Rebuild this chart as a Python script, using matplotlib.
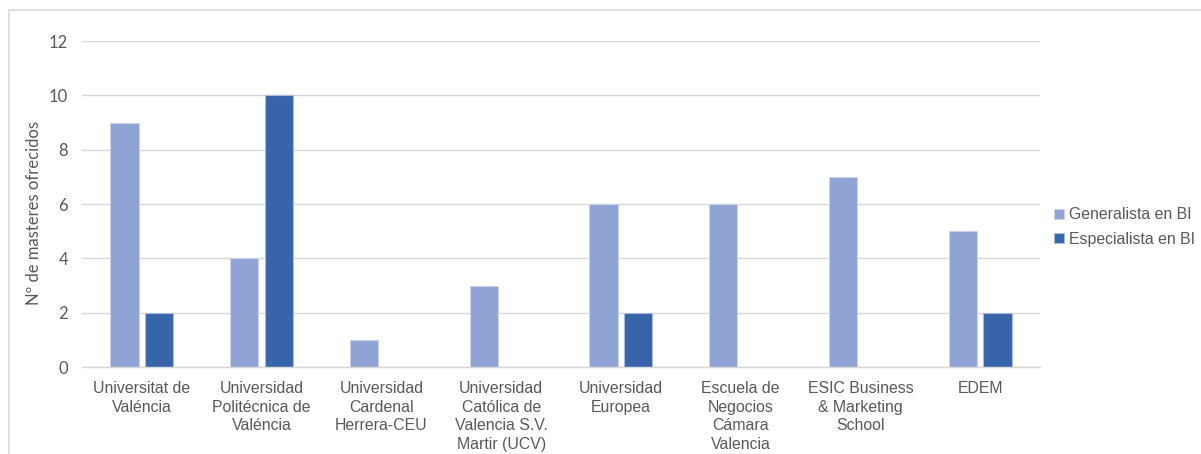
# ----- Masters en BI ofrecidos por centro -----

import numpy as np
import matplotlib.pyplot as plt
from matplotlib.patches import Rectangle

centros = [
    'Universitat de\nValéncia',
    'Universidad\nPolitécnica de\nValéncia',
    'Universidad\nCardenal\nHerrera-CEU',
    'Universidad\nCatólica de\nValencia S.V.\nMartir (UCV)',
    'Universidad\nEuropea',
    'Escuela de\nNegocios\nCámara\nValencia',
    'ESIC Business\n& Marketing\nSchool',
    'EDEM',
]
generalista = [9, 4, 1, 3, 6, 6, 7, 5]
especialista = [2, 10, 0, 0, 2, 0, 0, 2]
y_ticks = [0, 2, 4, 6, 8, 10, 12]

c_light = '#8FA3D4'
c_dark = '#3864A9'
txt = '#595959'

fig = plt.figure(figsize=(12.01, 4.54), dpi=100)
ax = fig.add_axes([0.0683, 0.1916, 0.7977, 0.718])

x = np.arange(len(centros))
w = 0.235
ax.bar(x - 0.145, generalista, w, color=c_light, edgecolor='#C9D3EC', linewidth=0.8,
       label='Generalista en BI', zorder=3)
ax.bar(x + 0.145, especialista, w, color=c_dark, edgecolor='#A9BBE0', linewidth=0.8,
       label='Especialista en BI', zorder=3)

ax.set_xlim(-0.5, len(centros) - 0.5)
ax.set_ylim(0, 12)
ax.set_yticks(y_ticks)
ax.set_yticklabels([str(v) for v in y_ticks], fontfamily='Lato', fontsize=12, color=txt)
ax.set_xticks(x)
ax.set_xticklabels(centros, fontfamily='Liberation Sans', fontsize=11.4, color=txt)
for lab in ax.get_xticklabels():
    lab.set_linespacing(1.3)
ax.tick_params(axis='both', length=0)
ax.tick_params(axis='x', pad=10)
ax.tick_params(axis='y', pad=10)
ax.grid(axis='y', color='#D9D9D9', linewidth=1, zorder=0)
for s in ['top', 'right', 'left']:
    ax.spines[s].set_visible(False)
ax.spines['bottom'].set_color('#D9D9D9')
ax.spines['bottom'].set_linewidth(1)
ax.spines['bottom'].set_zorder(4)

ax.set_ylabel('Nº de masteres ofrecidos', fontfamily='Lato', fontsize=12, color=txt)
ax.yaxis.set_label_coords(-0.042, 0.472)

# -- Legend --
fig.legend(loc='center left', bbox_to_anchor=(0.866, 0.5), frameon=False,
           prop={'family': 'Liberation Sans', 'size': 11.4}, labelcolor=txt,
           handlelength=0.6, handleheight=0.6, handletextpad=0.3, labelspacing=0.6)

# -- Chart border --
fig.patches.append(Rectangle((9 / 1201, -0.1), 1.2, (454 - 10) / 454 + 0.1,
                             transform=fig.transFigure, fill=False,
                             edgecolor='#D9D9D9', linewidth=1.2))

fig.savefig('out.png', dpi=100, facecolor='white')
